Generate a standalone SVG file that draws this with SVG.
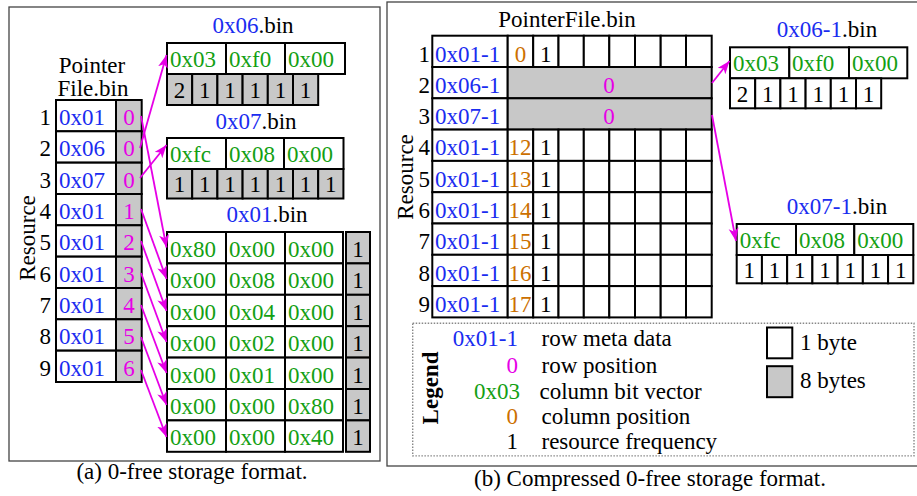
<svg xmlns="http://www.w3.org/2000/svg" width="917" height="496" viewBox="0 0 917 496">
<defs>
<style>
text{font-family:"Liberation Serif","Times New Roman",serif;font-size:23px;fill:#000}
.b{fill:#1a2cf0}.g{fill:#13a013}.m{fill:#e600e6}.o{fill:#cc7000}
.c{text-anchor:middle}.e{text-anchor:end}
.cw{fill:#fff;stroke:#000;stroke-width:2}
.cg{fill:#c8c8c8;stroke:#000;stroke-width:2}
.frame{fill:#fff;stroke:#444;stroke-width:1.3}
.arr{fill:none;stroke:#e600e6;stroke-width:1.8;marker-end:url(#ah)}
</style>
<marker id="ah" markerUnits="userSpaceOnUse" markerWidth="14" markerHeight="11" refX="13" refY="5" orient="auto">
<path d="M0,0 L13,5 L0,10 L3.5,5 Z" fill="#e600e6"/>
</marker>
</defs>
<rect width="917" height="496" fill="#fff"/>
<rect class="frame" x="9" y="7" width="371" height="454"/>
<rect class="frame" x="387" y="2" width="535" height="464"/>
<text class="c" x="192" y="479">(a) 0-free storage format.</text>
<text class="c" x="650" y="486">(b) Compressed 0-free storage format.</text>

<g id="left-pointerfile">
<text class="c" x="92" y="73" font-size="22">Pointer</text>
<text class="c" x="93" y="96" font-size="22">File.bin</text>
<text transform="translate(35,238) rotate(-90)" class="c">Resource</text>
<rect class="cw" x="56" y="100" width="60" height="31.3"/><rect class="cg" x="116" y="100" width="25.7" height="31.3"/>
<rect class="cw" x="56" y="131.3" width="60" height="31.3"/><rect class="cg" x="116" y="131.3" width="25.7" height="31.3"/>
<rect class="cw" x="56" y="162.7" width="60" height="31.3"/><rect class="cg" x="116" y="162.7" width="25.7" height="31.3"/>
<rect class="cw" x="56" y="194" width="60" height="31.3"/><rect class="cg" x="116" y="194" width="25.7" height="31.3"/>
<rect class="cw" x="56" y="225.3" width="60" height="31.3"/><rect class="cg" x="116" y="225.3" width="25.7" height="31.3"/>
<rect class="cw" x="56" y="256.7" width="60" height="31.3"/><rect class="cg" x="116" y="256.7" width="25.7" height="31.3"/>
<rect class="cw" x="56" y="288" width="60" height="31.3"/><rect class="cg" x="116" y="288" width="25.7" height="31.3"/>
<rect class="cw" x="56" y="319.3" width="60" height="31.3"/><rect class="cg" x="116" y="319.3" width="25.7" height="31.3"/>
<rect class="cw" x="56" y="350.7" width="60" height="31.3"/><rect class="cg" x="116" y="350.7" width="25.7" height="31.3"/>
<text class="e" x="51" y="125">1</text><text class="b" x="59" y="125">0x01</text><text class="m c" x="129" y="125">0</text>
<text class="e" x="51" y="156.3">2</text><text class="b" x="59" y="156.3">0x06</text><text class="m c" x="129" y="156.3">0</text>
<text class="e" x="51" y="187.7">3</text><text class="b" x="59" y="187.7">0x07</text><text class="m c" x="129" y="187.7">0</text>
<text class="e" x="51" y="219">4</text><text class="b" x="59" y="219">0x01</text><text class="m c" x="129" y="219">1</text>
<text class="e" x="51" y="250.3">5</text><text class="b" x="59" y="250.3">0x01</text><text class="m c" x="129" y="250.3">2</text>
<text class="e" x="51" y="281.7">6</text><text class="b" x="59" y="281.7">0x01</text><text class="m c" x="129" y="281.7">3</text>
<text class="e" x="51" y="313">7</text><text class="b" x="59" y="313">0x01</text><text class="m c" x="129" y="313">4</text>
<text class="e" x="51" y="344.3">8</text><text class="b" x="59" y="344.3">0x01</text><text class="m c" x="129" y="344.3">5</text>
<text class="e" x="51" y="375.7">9</text><text class="b" x="59" y="375.7">0x01</text><text class="m c" x="129" y="375.7">6</text>
</g>

<g id="left-0x06">
<text class="c" x="253" y="33"><tspan class="b">0x06</tspan>.bin</text>
<rect class="cw" x="167" y="43" width="59" height="31"/><rect class="cw" x="226" y="43" width="59" height="31"/><rect class="cw" x="285" y="43" width="60" height="31"/>
<text class="g" x="170" y="67">0x03</text><text class="g" x="229" y="67">0xf0</text><text class="g" x="288" y="67">0x00</text>
<rect class="cg" x="167" y="74" width="25.2" height="31"/><rect class="cg" x="192.2" y="74" width="25.2" height="31"/><rect class="cg" x="217.4" y="74" width="25.2" height="31"/><rect class="cg" x="242.6" y="74" width="25.2" height="31"/><rect class="cg" x="267.8" y="74" width="25.2" height="31"/><rect class="cg" x="293" y="74" width="25.2" height="31"/>
<text class="c" x="179.6" y="98">2</text><text class="c" x="204.8" y="98">1</text><text class="c" x="230" y="98">1</text><text class="c" x="255.2" y="98">1</text><text class="c" x="280.4" y="98">1</text><text class="c" x="305.6" y="98">1</text>
</g>

<g id="left-0x07">
<text class="c" x="256" y="129"><tspan class="b">0x07</tspan>.bin</text>
<rect class="cw" x="167" y="138" width="59" height="31"/><rect class="cw" x="226" y="138" width="58" height="31"/><rect class="cw" x="284" y="138" width="59.5" height="31"/>
<text class="g" x="170" y="162">0xfc</text><text class="g" x="229" y="162">0x08</text><text class="g" x="287" y="162">0x00</text>
<rect class="cg" x="167" y="169" width="25.2" height="29.5"/><rect class="cg" x="192.2" y="169" width="25.2" height="29.5"/><rect class="cg" x="217.4" y="169" width="25.2" height="29.5"/><rect class="cg" x="242.6" y="169" width="25.2" height="29.5"/><rect class="cg" x="267.8" y="169" width="25.2" height="29.5"/><rect class="cg" x="293" y="169" width="25.2" height="29.5"/><rect class="cg" x="318.2" y="169" width="25.2" height="29.5"/>
<text class="c" x="179.6" y="192">1</text><text class="c" x="204.8" y="192">1</text><text class="c" x="230" y="192">1</text><text class="c" x="255.2" y="192">1</text><text class="c" x="280.4" y="192">1</text><text class="c" x="305.6" y="192">1</text><text class="c" x="330.8" y="192">1</text>
</g>

<g id="left-0x01">
<text class="c" x="267" y="222"><tspan class="b">0x01</tspan>.bin</text>
<g>
<rect class="cw" x="167" y="232" width="59" height="31.4"/><rect class="cw" x="226" y="232" width="59" height="31.4"/><rect class="cw" x="285" y="232" width="58" height="31.4"/><rect class="cg" x="346" y="232" width="24" height="31.4"/>
<rect class="cw" x="167" y="263.4" width="59" height="31.4"/><rect class="cw" x="226" y="263.4" width="59" height="31.4"/><rect class="cw" x="285" y="263.4" width="58" height="31.4"/><rect class="cg" x="346" y="263.4" width="24" height="31.4"/>
<rect class="cw" x="167" y="294.8" width="59" height="31.4"/><rect class="cw" x="226" y="294.8" width="59" height="31.4"/><rect class="cw" x="285" y="294.8" width="58" height="31.4"/><rect class="cg" x="346" y="294.8" width="24" height="31.4"/>
<rect class="cw" x="167" y="326.2" width="59" height="31.4"/><rect class="cw" x="226" y="326.2" width="59" height="31.4"/><rect class="cw" x="285" y="326.2" width="58" height="31.4"/><rect class="cg" x="346" y="326.2" width="24" height="31.4"/>
<rect class="cw" x="167" y="357.6" width="59" height="31.4"/><rect class="cw" x="226" y="357.6" width="59" height="31.4"/><rect class="cw" x="285" y="357.6" width="58" height="31.4"/><rect class="cg" x="346" y="357.6" width="24" height="31.4"/>
<rect class="cw" x="167" y="389" width="59" height="31.4"/><rect class="cw" x="226" y="389" width="59" height="31.4"/><rect class="cw" x="285" y="389" width="58" height="31.4"/><rect class="cg" x="346" y="389" width="24" height="31.4"/>
<rect class="cw" x="167" y="420.4" width="59" height="31.4"/><rect class="cw" x="226" y="420.4" width="59" height="31.4"/><rect class="cw" x="285" y="420.4" width="58" height="31.4"/><rect class="cg" x="346" y="420.4" width="24" height="31.4"/>
</g>
<text class="g" x="170" y="257">0x80</text><text class="g" x="229" y="257">0x00</text><text class="g" x="288" y="257">0x00</text><text class="c" x="358" y="257">1</text>
<text class="g" x="170" y="288.4">0x00</text><text class="g" x="229" y="288.4">0x08</text><text class="g" x="288" y="288.4">0x00</text><text class="c" x="358" y="288.4">1</text>
<text class="g" x="170" y="319.8">0x00</text><text class="g" x="229" y="319.8">0x04</text><text class="g" x="288" y="319.8">0x00</text><text class="c" x="358" y="319.8">1</text>
<text class="g" x="170" y="351.2">0x00</text><text class="g" x="229" y="351.2">0x02</text><text class="g" x="288" y="351.2">0x00</text><text class="c" x="358" y="351.2">1</text>
<text class="g" x="170" y="382.6">0x00</text><text class="g" x="229" y="382.6">0x01</text><text class="g" x="288" y="382.6">0x00</text><text class="c" x="358" y="382.6">1</text>
<text class="g" x="170" y="414">0x00</text><text class="g" x="229" y="414">0x00</text><text class="g" x="288" y="414">0x80</text><text class="c" x="358" y="414">1</text>
<text class="g" x="170" y="445.4">0x00</text><text class="g" x="229" y="445.4">0x00</text><text class="g" x="288" y="445.4">0x40</text><text class="c" x="358" y="445.4">1</text>
</g>

<g id="right-pointerfile">
<text class="c" x="567" y="27">PointerFile.bin</text>
<text transform="translate(413,177) rotate(-90)" class="c">Resource</text>
<g>
<rect class="cw" x="432.3" y="35.7" width="75.4" height="31.3"/><rect class="cw" x="507.7" y="35.7" width="25.5" height="31.3"/><rect class="cw" x="533.2" y="35.7" width="25.3" height="31.3"/><rect class="cw" x="558.5" y="35.7" width="25.3" height="31.3"/><rect class="cw" x="583.8" y="35.7" width="25.5" height="31.3"/><rect class="cw" x="609.3" y="35.7" width="25.7" height="31.3"/><rect class="cw" x="635" y="35.7" width="25.7" height="31.3"/><rect class="cw" x="660.7" y="35.7" width="25.3" height="31.3"/><rect class="cw" x="686" y="35.7" width="25.7" height="31.3"/>
<rect class="cw" x="432.3" y="67" width="75.4" height="31.3"/><rect class="cg" x="507.7" y="67" width="204" height="31.3"/>
<rect class="cw" x="432.3" y="98.3" width="75.4" height="31.3"/><rect class="cg" x="507.7" y="98.3" width="204" height="31.3"/>
</g>
<g>
<rect class="cw" x="432.3" y="129.6" width="75.4" height="31.3"/><rect class="cw" x="507.7" y="129.6" width="25.5" height="31.3"/><rect class="cw" x="533.2" y="129.6" width="25.3" height="31.3"/><rect class="cw" x="558.5" y="129.6" width="25.3" height="31.3"/><rect class="cw" x="583.8" y="129.6" width="25.5" height="31.3"/><rect class="cw" x="609.3" y="129.6" width="25.7" height="31.3"/><rect class="cw" x="635" y="129.6" width="25.7" height="31.3"/><rect class="cw" x="660.7" y="129.6" width="25.3" height="31.3"/><rect class="cw" x="686" y="129.6" width="25.7" height="31.3"/>
<rect class="cw" x="432.3" y="160.9" width="75.4" height="31.3"/><rect class="cw" x="507.7" y="160.9" width="25.5" height="31.3"/><rect class="cw" x="533.2" y="160.9" width="25.3" height="31.3"/><rect class="cw" x="558.5" y="160.9" width="25.3" height="31.3"/><rect class="cw" x="583.8" y="160.9" width="25.5" height="31.3"/><rect class="cw" x="609.3" y="160.9" width="25.7" height="31.3"/><rect class="cw" x="635" y="160.9" width="25.7" height="31.3"/><rect class="cw" x="660.7" y="160.9" width="25.3" height="31.3"/><rect class="cw" x="686" y="160.9" width="25.7" height="31.3"/>
<rect class="cw" x="432.3" y="192.2" width="75.4" height="31.3"/><rect class="cw" x="507.7" y="192.2" width="25.5" height="31.3"/><rect class="cw" x="533.2" y="192.2" width="25.3" height="31.3"/><rect class="cw" x="558.5" y="192.2" width="25.3" height="31.3"/><rect class="cw" x="583.8" y="192.2" width="25.5" height="31.3"/><rect class="cw" x="609.3" y="192.2" width="25.7" height="31.3"/><rect class="cw" x="635" y="192.2" width="25.7" height="31.3"/><rect class="cw" x="660.7" y="192.2" width="25.3" height="31.3"/><rect class="cw" x="686" y="192.2" width="25.7" height="31.3"/>
<rect class="cw" x="432.3" y="223.5" width="75.4" height="31.3"/><rect class="cw" x="507.7" y="223.5" width="25.5" height="31.3"/><rect class="cw" x="533.2" y="223.5" width="25.3" height="31.3"/><rect class="cw" x="558.5" y="223.5" width="25.3" height="31.3"/><rect class="cw" x="583.8" y="223.5" width="25.5" height="31.3"/><rect class="cw" x="609.3" y="223.5" width="25.7" height="31.3"/><rect class="cw" x="635" y="223.5" width="25.7" height="31.3"/><rect class="cw" x="660.7" y="223.5" width="25.3" height="31.3"/><rect class="cw" x="686" y="223.5" width="25.7" height="31.3"/>
<rect class="cw" x="432.3" y="254.8" width="75.4" height="31.3"/><rect class="cw" x="507.7" y="254.8" width="25.5" height="31.3"/><rect class="cw" x="533.2" y="254.8" width="25.3" height="31.3"/><rect class="cw" x="558.5" y="254.8" width="25.3" height="31.3"/><rect class="cw" x="583.8" y="254.8" width="25.5" height="31.3"/><rect class="cw" x="609.3" y="254.8" width="25.7" height="31.3"/><rect class="cw" x="635" y="254.8" width="25.7" height="31.3"/><rect class="cw" x="660.7" y="254.8" width="25.3" height="31.3"/><rect class="cw" x="686" y="254.8" width="25.7" height="31.3"/>
<rect class="cw" x="432.3" y="286.1" width="75.4" height="31.3"/><rect class="cw" x="507.7" y="286.1" width="25.5" height="31.3"/><rect class="cw" x="533.2" y="286.1" width="25.3" height="31.3"/><rect class="cw" x="558.5" y="286.1" width="25.3" height="31.3"/><rect class="cw" x="583.8" y="286.1" width="25.5" height="31.3"/><rect class="cw" x="609.3" y="286.1" width="25.7" height="31.3"/><rect class="cw" x="635" y="286.1" width="25.7" height="31.3"/><rect class="cw" x="660.7" y="286.1" width="25.3" height="31.3"/><rect class="cw" x="686" y="286.1" width="25.7" height="31.3"/>
</g>
<text class="e" x="430" y="61.5">1</text><text class="b" x="435" y="61.5">0x01-1</text><text class="o c" x="520.5" y="61.5">0</text><text class="c" x="545.8" y="61.5">1</text>
<text class="e" x="430" y="92.8">2</text><text class="b" x="435" y="92.8">0x06-1</text><text class="m c" x="609" y="92.8">0</text>
<text class="e" x="430" y="124.1">3</text><text class="b" x="435" y="124.1">0x07-1</text><text class="m c" x="609" y="124.1">0</text>
<text class="e" x="430" y="155.4">4</text><text class="b" x="435" y="155.4">0x01-1</text><text class="o c" x="520" y="155.4">12</text><text class="c" x="545.8" y="155.4">1</text>
<text class="e" x="430" y="186.7">5</text><text class="b" x="435" y="186.7">0x01-1</text><text class="o c" x="520" y="186.7">13</text><text class="c" x="545.8" y="186.7">1</text>
<text class="e" x="430" y="218">6</text><text class="b" x="435" y="218">0x01-1</text><text class="o c" x="520" y="218">14</text><text class="c" x="545.8" y="218">1</text>
<text class="e" x="430" y="249.3">7</text><text class="b" x="435" y="249.3">0x01-1</text><text class="o c" x="520" y="249.3">15</text><text class="c" x="545.8" y="249.3">1</text>
<text class="e" x="430" y="280.6">8</text><text class="b" x="435" y="280.6">0x01-1</text><text class="o c" x="520" y="280.6">16</text><text class="c" x="545.8" y="280.6">1</text>
<text class="e" x="430" y="311.9">9</text><text class="b" x="435" y="311.9">0x01-1</text><text class="o c" x="520" y="311.9">17</text><text class="c" x="545.8" y="311.9">1</text>
</g>

<g id="right-0x06-1">
<text class="c" x="827" y="37"><tspan class="b">0x06-1</tspan>.bin</text>
<rect class="cw" x="730" y="47.3" width="59.3" height="31"/><rect class="cw" x="789.3" y="47.3" width="59.7" height="31"/><rect class="cw" x="849" y="47.3" width="58.3" height="31"/>
<text class="g" x="733" y="71">0x03</text><text class="g" x="792" y="71">0xf0</text><text class="g" x="852" y="71">0x00</text>
<rect class="cw" x="730" y="78.3" width="25.2" height="30"/><rect class="cw" x="755.2" y="78.3" width="25.2" height="30"/><rect class="cw" x="780.4" y="78.3" width="25.2" height="30"/><rect class="cw" x="805.6" y="78.3" width="25.2" height="30"/><rect class="cw" x="830.8" y="78.3" width="25.2" height="30"/><rect class="cw" x="856" y="78.3" width="25.2" height="30"/>
<text class="c" x="742.6" y="102">2</text><text class="c" x="767.8" y="102">1</text><text class="c" x="793" y="102">1</text><text class="c" x="818.2" y="102">1</text><text class="c" x="843.4" y="102">1</text><text class="c" x="868.6" y="102">1</text>
</g>

<g id="right-0x07-1">
<text class="c" x="837" y="214"><tspan class="b">0x07-1</tspan>.bin</text>
<rect class="cw" x="736.7" y="224" width="59.3" height="31"/><rect class="cw" x="796" y="224" width="58.3" height="31"/><rect class="cw" x="854.3" y="224" width="59" height="31"/>
<text class="g" x="739.7" y="248">0xfc</text><text class="g" x="799" y="248">0x08</text><text class="g" x="857.3" y="248">0x00</text>
<rect class="cw" x="736.7" y="255" width="25.23" height="28.3"/><rect class="cw" x="761.93" y="255" width="25.23" height="28.3"/><rect class="cw" x="787.16" y="255" width="25.23" height="28.3"/><rect class="cw" x="812.39" y="255" width="25.23" height="28.3"/><rect class="cw" x="837.62" y="255" width="25.23" height="28.3"/><rect class="cw" x="862.85" y="255" width="25.23" height="28.3"/><rect class="cw" x="888.08" y="255" width="25.23" height="28.3"/>
<text class="c" x="749.3" y="277.5">1</text><text class="c" x="774.5" y="277.5">1</text><text class="c" x="799.8" y="277.5">1</text><text class="c" x="825" y="277.5">1</text><text class="c" x="850.2" y="277.5">1</text><text class="c" x="875.5" y="277.5">1</text><text class="c" x="900.7" y="277.5">1</text>
</g>

<g id="legend">
<rect x="412.7" y="323.3" width="501.3" height="132.6" fill="none" stroke="#888" stroke-width="1.4" stroke-dasharray="1.5 1.5"/>
<text transform="translate(438,388) rotate(-90)" class="c" font-weight="bold">Legend</text>
<text class="b e" x="518" y="346">0x01-1</text><text x="541.5" y="346">row meta data</text>
<text class="m e" x="518" y="372.5">0</text><text x="541.5" y="372.5">row position</text>
<text class="g e" x="520" y="398.5">0x03</text><text x="539.5" y="398.5">column bit vector</text>
<text class="o e" x="518" y="424">0</text><text x="541.5" y="424">column position</text>
<text class="e" x="518" y="448.5">1</text><text x="541.5" y="448.5">resource frequency</text>
<rect class="cw" x="767" y="327.5" width="25.3" height="30.8"/>
<rect class="cg" x="767" y="366.2" width="25.3" height="31"/>
<text x="800" y="350">1 byte</text>
<text x="800" y="388">8 bytes</text>
</g>

<g id="connectors">
<line class="arr" x1="141" y1="116" x2="166.5" y2="247.5"/>
<line class="arr" x1="140" y1="148" x2="166.5" y2="55"/>
<line class="arr" x1="140" y1="178" x2="166.5" y2="145"/>
<line class="arr" x1="141" y1="209" x2="166.5" y2="279"/>
<line class="arr" x1="141" y1="241" x2="166.5" y2="311"/>
<line class="arr" x1="141" y1="273" x2="166.5" y2="342"/>
<line class="arr" x1="141" y1="305" x2="166.5" y2="373"/>
<line class="arr" x1="141" y1="337" x2="166.5" y2="405"/>
<line class="arr" x1="141" y1="370" x2="166.5" y2="437"/>
<line class="arr" x1="712" y1="83" x2="729.5" y2="61"/>
<line class="arr" x1="712" y1="115" x2="736" y2="241"/>
</g>
</svg>
